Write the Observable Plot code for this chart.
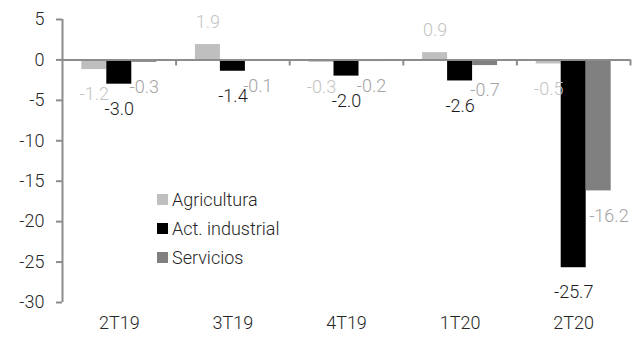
<!DOCTYPE html>
<html>
<head>
<meta charset="utf-8">
<script src="https://cdn.jsdelivr.net/npm/d3@7"></script>
<script src="https://cdn.jsdelivr.net/npm/@observablehq/plot@0.6"></script>
<style>
  body { margin: 0; background: #fff; }
  #chart { position: relative; width: 632px; height: 337px; }
  .legend { position: absolute; left: 157px; top: 185px; font: 300 18px Roboto, sans-serif; color: #262626; }
  .legend .item { display: flex; align-items: center; height: 29px; }
  .legend .sw { width: 11px; height: 11px; margin-right: 4px; display: inline-block; }
</style>
</head>
<body>
<div id="chart"></div>
<script>
// Variación anual por sector (%)
const quarters = ["2T19", "3T19", "4T19", "1T20", "2T20"];
const seriesNames = ["Agricultura", "Act. industrial", "Servicios"];
const agricultura = [-1.2, 1.9, -0.3, 0.9, -0.5];
const industrial = [-3.0, -1.4, -2.0, -2.6, -25.7];
const servicios = [-0.3, -0.1, -0.2, -0.7, -16.2];
const yTicks = [5, 0, -5, -10, -15, -20, -25, -30];

const barColors = ["#bfbfbf", "#000000", "#808080"];
const labelColors = ["#c4c4c4", "#1a1a1a", "#a3a3a3"];
const axisColor = "#8c8c8c";
const font = {fontFamily: "Roboto, sans-serif", fontSize: 18, fontWeight: 300};

// bar width in category units; the three bars of a quarter sit side by side
const barWidth = 0.22;
const allSeries = [agricultura, industrial, servicios];
const rows = [];
allSeries.forEach((values, k) => values.forEach((v, i) => {
  const xc = i + 0.5 + (k - 1) * barWidth;
  rows.push({quarter: quarters[i], series: seriesNames[k], k, i, value: v,
             x1: xc - barWidth / 2, x2: xc + barWidth / 2, xc});
}));

// a label that would collide with a much deeper bar on its left moves to the right
const shifted = d => d.k > 0 && allSeries[d.k - 1][d.i] < d.value - 5;
const label = d => d.value.toFixed(1);

const chart = Plot.plot({
  width: 632,
  height: 337,
  marginLeft: 62,
  marginRight: 2,
  marginTop: 19,
  marginBottom: 35,
  x: {domain: [0, quarters.length]},
  y: {domain: [-30, 5]},
  color: {type: "identity"},
  style: {background: "#fff", overflow: "visible"},
  marks: [
    Plot.rectY(rows, {x1: "x1", x2: "x2", y1: 0, y2: "value", fill: d => barColors[d.k]}),
    Plot.ruleY([0], {stroke: axisColor, strokeWidth: 2}),
    Plot.ruleX(d3.range(1, quarters.length + 1), {y1: 0, y2: 0, insetBottom: -6, stroke: axisColor, strokeWidth: 2}),
    Plot.ruleX([0], {y1: 5, y2: -30, stroke: axisColor, strokeWidth: 2}),
    Plot.axisY(yTicks, {tickSize: 6, tickPadding: 12, stroke: axisColor, strokeWidth: 2,
      tickFormat: d => String(d), fill: "#262626", label: null, ...font}),
    Plot.axisX(quarters.map((q, i) => i + 0.5), {tickSize: 0, tickPadding: 14,
      tickFormat: v => quarters[Math.floor(v)], fill: "#262626", label: null, ...font}),
    Plot.text(rows.filter(d => d.value >= 0), {x: "xc", y: "value", text: label,
      fill: d => labelColors[d.k], dy: -22, ...font}),
    Plot.text(rows.filter(d => d.value < 0 && !shifted(d)), {x: "xc", y: "value", text: label,
      fill: d => labelColors[d.k], dy: 25, ...font}),
    Plot.text(rows.filter(d => d.value < 0 && shifted(d)), {x: "x1", y: "value", text: label,
      fill: d => labelColors[d.k], dy: 25, dx: 3, textAnchor: "start", ...font})
  ]
});

const root = document.getElementById("chart");
root.appendChild(chart);

const legend = document.createElement("div");
legend.className = "legend";
seriesNames.forEach((name, k) => {
  const item = document.createElement("div");
  item.className = "item";
  const sw = document.createElement("span");
  sw.className = "sw";
  sw.style.background = barColors[k];
  item.appendChild(sw);
  item.appendChild(document.createTextNode(name));
  legend.appendChild(item);
});
root.appendChild(legend);
</script>
</body>
</html>
